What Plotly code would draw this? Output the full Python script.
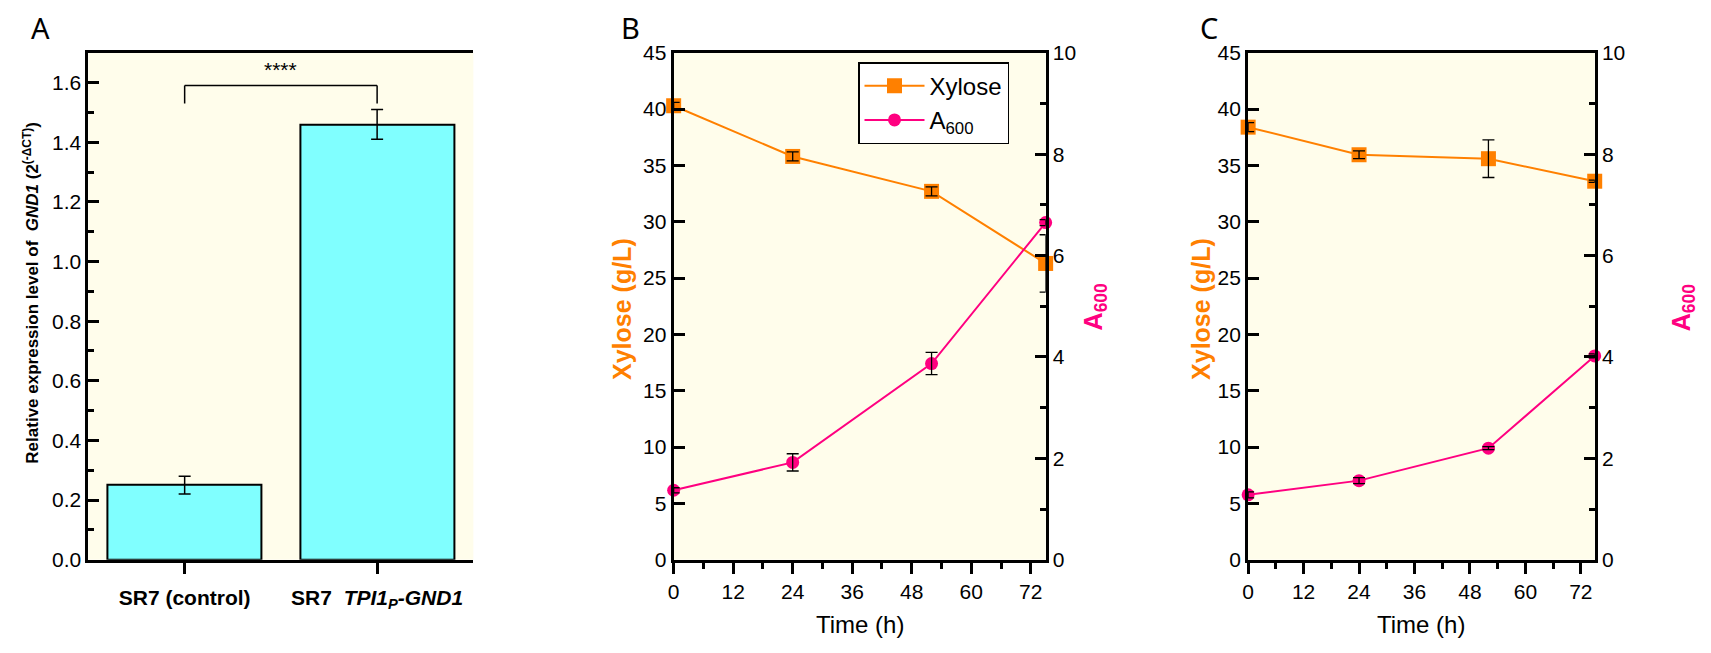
import plotly.graph_objects as go

# ---------------- Data ----------------
# Panel A: relative expression of GND1
strain_pos = [0, 1]
strain_labels = ["<b>SR7 (control)</b>", "<b>SR7  <i>TPI1<sub>P</sub>-GND1</i></b>"]
expr = [0.25, 1.46]
expr_err = [0.03, 0.05]
sig_text = "****"
sig_y = 1.59
sig_leg_bottom = [1.53, 1.53]
sig_label_y = 1.645

# Panel B
time_b = [0, 24, 52, 75]
xylose_b = [40.3, 35.8, 32.7, 26.3]
xylose_b_err = [0.3, 0.4, 0.4, 2.55]
a600_b = [1.37, 1.92, 3.87, 6.65]
a600_b_err = [0.05, 0.17, 0.22, 0.06]

# Panel C
time_c = [0, 24, 52, 75]
xylose_c = [38.4, 35.95, 35.6, 33.6]
xylose_c_err = [0.4, 0.35, 1.67, 0.1]
a600_c = [1.28, 1.56, 2.2, 4.02]
a600_c_err = [0.06, 0.06, 0.03, 0.04]

time_ticks = [0, 12, 24, 36, 48, 60, 72]

ORANGE = "#FF8000"
PINK = "#FF0080"
CYAN = "#80FFFF"
BG = "#FFFDEB"
FONT = "Liberation Sans, Arial, sans-serif"

W, H = 1711, 653

fig = go.Figure()

# ---------------- Panel A ----------------
fig.add_trace(go.Bar(
    x=strain_pos, y=expr, width=0.8,
    marker=dict(color=CYAN, line=dict(color="black", width=2)),
    error_y=dict(type="data", array=expr_err, color="black", thickness=1.5, width=6),
    xaxis="x", yaxis="y", showlegend=False,
))

# ---------------- Panels B, C ----------------
def add_panel(t, xy, xy_err, a6, a6_err, xa, ya_l, ya_r, legend):
    fig.add_trace(go.Scatter(
        x=t, y=xy, mode="lines+markers", name="Xylose",
        line=dict(color=ORANGE, width=2),
        marker=dict(symbol="square", size=15, color=ORANGE),
        xaxis=xa, yaxis=ya_l, showlegend=legend, cliponaxis=False,
    ))
    fig.add_trace(go.Scatter(
        x=t, y=a6, mode="lines+markers", name="A<sub>600</sub>",
        line=dict(color=PINK, width=2),
        marker=dict(symbol="circle", size=13, color=PINK),
        xaxis=xa, yaxis=ya_r, showlegend=legend, cliponaxis=False,
    ))
    # error bars drawn on top of the markers
    fig.add_trace(go.Scatter(
        x=t, y=xy, mode="markers", marker=dict(size=1, color="rgba(0,0,0,0)"),
        error_y=dict(type="data", array=xy_err, color="black", thickness=1.3, width=6),
        xaxis=xa, yaxis=ya_l, showlegend=False, hoverinfo="skip", cliponaxis=False,
    ))
    fig.add_trace(go.Scatter(
        x=t, y=a6, mode="markers", marker=dict(size=1, color="rgba(0,0,0,0)"),
        error_y=dict(type="data", array=a6_err, color="black", thickness=1.3, width=6),
        xaxis=xa, yaxis=ya_r, showlegend=False, hoverinfo="skip", cliponaxis=False,
    ))

add_panel(time_b, xylose_b, xylose_b_err, a600_b, a600_b_err, "x2", "y3", "y4", True)
add_panel(time_c, xylose_c, xylose_c_err, a600_c, a600_c_err, "x3", "y5", "y6", False)

# ---------------- Layout ----------------
def px_x(a, b):
    return [a / W, b / W]

y_dom = [1 - 567.7 / H, 1 - 42.3 / H]

base = dict(showline=True, linecolor="black", linewidth=3, showgrid=False, zeroline=False,
            tickcolor="black", tickwidth=3, ticklen=11,
            tickfont=dict(family=FONT, size=21, color="black"))

def minor(dt, ticks):
    return dict(dtick=dt, ticks=ticks, ticklen=6, tickwidth=3, tickcolor="black", showgrid=False)

layout = dict(
    width=W, height=H, autosize=False,
    margin=dict(l=0, r=0, t=0, b=0),
    paper_bgcolor="white", plot_bgcolor=BG,
    font=dict(family=FONT, color="black"),
    bargap=0,
    # Panel A
    xaxis=dict(base, domain=px_x(82.7, 469), anchor="y", range=[-0.5, 1.5],
               tickmode="array", tickvals=strain_pos, ticktext=strain_labels,
               ticks="outside", mirror=True, ticklabelstandoff=6),
    yaxis=dict(base, domain=y_dom, anchor="x", range=[0, 1.7], dtick=0.2, tick0=0,
               tickformat=".1f", ticks="inside", minor=minor(0.1, "inside")),
    yaxis2=dict(base, domain=y_dom, anchor="x", overlaying="y", side="right",
                range=[0, 1.7], dtick=0.2, tick0=0, tickformat=".1f",
                ticks="inside", minor=minor(0.1, "inside")),
    # Panel B
    xaxis2=dict(base, domain=px_x(670, 1043.3), anchor="y3", range=[0, 75],
                tickmode="array", tickvals=time_ticks, ticks="outside", mirror=True,
                minor=minor(6, "outside")),
    yaxis3=dict(base, domain=y_dom, anchor="x2", range=[0, 45], dtick=5, ticks="inside"),
    yaxis4=dict(base, domain=y_dom, anchor="x2", overlaying="y3", side="right",
                range=[0, 10], dtick=2, ticks="inside", minor=minor(1, "inside")),
    # Panel C
    xaxis3=dict(base, domain=px_x(1246.5, 1594.3), anchor="y5", range=[0, 75],
                tickmode="array", tickvals=time_ticks, ticks="outside", mirror=True,
                minor=minor(6, "outside")),
    yaxis5=dict(base, domain=y_dom, anchor="x3", range=[0, 45], dtick=5, ticks="inside"),
    yaxis6=dict(base, domain=y_dom, anchor="x3", overlaying="y5", side="right",
                range=[0, 10], dtick=2, ticks="inside", minor=minor(1, "inside")),
    legend=dict(x=855 / W, y=1 - 52 / H, xanchor="left", yanchor="top",
                bgcolor="white", bordercolor="black", borderwidth=1.5,
                font=dict(family=FONT, size=24, color="black"),
                itemwidth=60, tracegroupgap=0),
)
fig.update_layout(**layout)

# Significance bracket (panel A)
fig.add_shape(type="line", xref="x", yref="y", x0=strain_pos[0], x1=strain_pos[1],
              y0=sig_y, y1=sig_y, line=dict(color="black", width=1.5))
for xp, yb in zip(strain_pos, sig_leg_bottom):
    fig.add_shape(type="line", xref="x", yref="y", x0=xp, x1=xp, y0=yb, y1=sig_y,
                  line=dict(color="black", width=1.5))
fig.add_annotation(x=sum(strain_pos) / 2, y=sig_label_y, xref="x", yref="y",
                   text=sig_text, showarrow=False,
                   font=dict(family=FONT, size=21, color="black"))

# Titles / labels
def ann(x, y, text, size, color="black", angle=0, family=FONT):
    fig.add_annotation(x=x / W, y=1 - y / H, xref="paper", yref="paper", text=text,
                       showarrow=False, textangle=angle, xanchor="center", yanchor="middle",
                       font=dict(family=family, size=size, color=color))

ann(25, 291, "<b>Relative expression level of  <i>GND1</i> (2<sup>(-ΔCT)</sup>)</b>", 17, angle=-90)
ann(618, 308, "<b>Xylose (g/L)</b>", 25, ORANGE, -90)
ann(1093, 305, "<b>A<sub>600</sub></b>", 25, PINK, -90)
ann(1199, 308, "<b>Xylose (g/L)</b>", 25, ORANGE, -90)
ann(1683, 306, "<b>A<sub>600</sub></b>", 25, PINK, -90)
ann(857, 635, "Time (h)", 24)
ann(1420, 635, "Time (h)", 24)
ann(35, 16, "A", 29, family="Noto Sans, Open Sans, sans-serif")
ann(627, 16, "B", 29, family="Noto Sans, Open Sans, sans-serif")
ann(1207, 16, "C", 29, family="Noto Sans, Open Sans, sans-serif")

fig.write_html("out.html")
